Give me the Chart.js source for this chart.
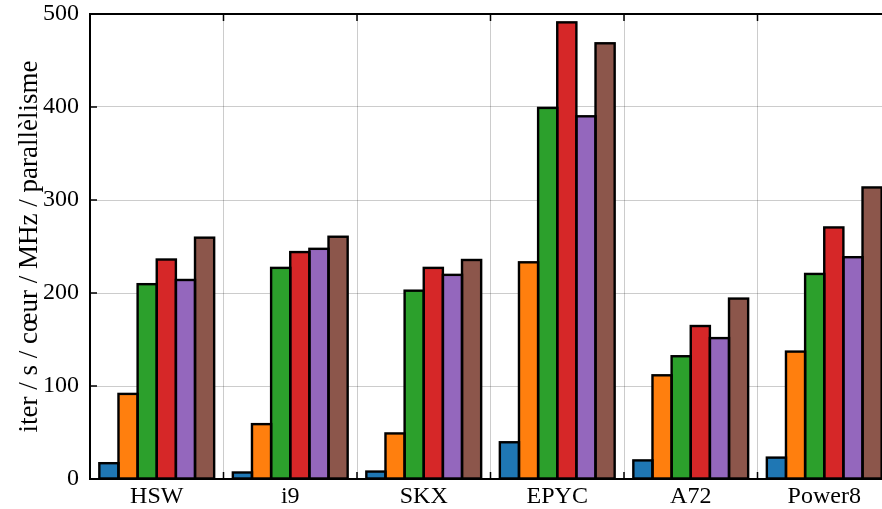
<!DOCTYPE html>
<html>
<head>
<meta charset="utf-8">
<script src="https://cdn.jsdelivr.net/npm/chart.js@4/dist/chart.umd.min.js"></script>
<style>
html,body{margin:0;padding:0;background:#fff;overflow:hidden;width:882px;height:509px;}
canvas{display:block;}
</style>
</head>
<body>
<canvas id="c" width="900" height="509"></canvas>
<script>
const categories = ["HSW", "i9", "SKX", "EPYC", "A72", "Power8"];
const series1 = [17, 7, 8, 39.5, 20, 23];
const series2 = [91.5, 59, 49, 233, 111.5, 137];
const series3 = [209.5, 227, 202.5, 399, 132, 220.5];
const series4 = [236, 244, 227, 491, 164.5, 270.5];
const series5 = [214, 247.5, 219.5, 390, 151.5, 238.5];
const series6 = [259.5, 260.5, 235.5, 468.5, 194, 313.5];
const colors = ["#1f77b4", "#ff7f0e", "#2ca02c", "#d62728", "#9467bd", "#8c564b"];
const yTicks = [0, 100, 200, 300, 400, 500];
const yTitle = "iter / s / cœur / MHz / parallèlisme";

const FONT = "'Liberation Serif', 'DejaVu Serif', serif";
const allSeries = [series1, series2, series3, series4, series5, series6];

// matplotlib-like centred bar edges, using the geometry computed by Chart.js
const edges = {
  id: 'edges',
  afterDatasetsDraw(chart) {
    const {ctx} = chart;
    ctx.save();
    ctx.strokeStyle = '#000';
    ctx.lineWidth = 2.4;
    ctx.lineJoin = 'miter';
    chart.data.datasets.forEach((ds, i) => {
      chart.getDatasetMeta(i).data.forEach(el => {
        const {x, y, base, width} = el.getProps(['x', 'y', 'base', 'width'], true);
        ctx.strokeRect(x - width / 2, y, width, base - y);
      });
    });
    ctx.restore();
  }
};

const frame = {
  id: 'frame',
  afterDraw(chart) {
    const {ctx, chartArea: a, scales} = chart;
    ctx.save();
    ctx.strokeStyle = '#000';
    ctx.lineWidth = 2;
    ctx.beginPath();
    ctx.moveTo(a.left - 1, a.top);
    ctx.lineTo(chart.width, a.top);
    ctx.stroke();
    ctx.lineWidth = 1.5;
    ctx.beginPath();
    yTicks.forEach(v => {
      const y = Math.round(scales.y.getPixelForValue(v));
      ctx.moveTo(a.left, y);
      ctx.lineTo(a.left + 7, y);
    });
    const n = categories.length;
    for (let i = 1; i < n; i++) {
      const x = (scales.x.getPixelForValue(i - 1) + scales.x.getPixelForValue(i)) / 2;
      ctx.moveTo(x, a.bottom);
      ctx.lineTo(x, a.bottom - 7);
      ctx.moveTo(x, a.top);
      ctx.lineTo(x, a.top + 7);
    }
    ctx.stroke();
    ctx.restore();
  }
};

new Chart(document.getElementById('c'), {
  type: 'bar',
  data: {
    labels: categories,
    datasets: allSeries.map((d, i) => ({
      data: d,
      backgroundColor: colors[i],
      borderWidth: 0,
      inflateAmount: 0.5,
      categoryPercentage: 0.86,
      barPercentage: 1
    }))
  },
  options: {
    responsive: false,
    animation: false,
    devicePixelRatio: 1,
    layout: {padding: {top: 14, right: 9, left: 0, bottom: 0}},
    plugins: {legend: {display: false}, tooltip: {enabled: false}, title: {display: false}},
    scales: {
      x: {
        z: 1,
        grid: {display: true, offset: true, color: 'rgba(0,0,0,0.2)', lineWidth: 1, drawTicks: false},
        border: {display: true, color: '#000', width: 2},
        ticks: {color: '#000', font: {family: FONT, size: 24}, padding: 3, maxRotation: 0},
        afterFit(s) { s.height = 30; s.paddingLeft = 0; s.paddingRight = 0; }
      },
      y: {
        z: 1,
        min: 0, max: 500,
        afterBuildTicks(s) { s.ticks = yTicks.map(v => ({value: v})); },
        grid: {color: 'rgba(0,0,0,0.2)', lineWidth: 1, drawTicks: false},
        border: {display: true, color: '#000', width: 2},
        ticks: {color: '#000', font: {family: FONT, size: 24}, padding: 11},
        title: {display: true, text: yTitle, color: '#000', font: {family: FONT, size: 27}, padding: {top: 14, bottom: 0}},
        afterFit(s) { s.width = 90; s.paddingTop = 0; s.paddingBottom = 0; }
      }
    }
  },
  plugins: [edges, frame]
});
</script>
</body>
</html>
